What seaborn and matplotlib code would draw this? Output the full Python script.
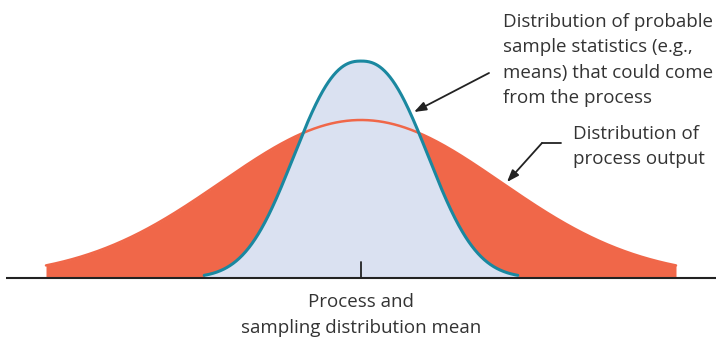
import numpy as np
import pandas as pd
import matplotlib
matplotlib.use("Agg")
import matplotlib.pyplot as plt
import seaborn as sns

# --- data (x in units of the process standard deviation) ---
process_mean = 0.0
process_sd = 1.0
process_peak = 1.0
process_range = [-2.25, 2.25]

# sampling distribution: narrower and taller, light tails
sample_scale = 0.604
sample_shape = 2.4
sample_peak = 1.373
sample_range = [-1.12, 1.12]

label_sampling = ["Distribution of probable", "sample statistics (e.g.,",
                  "means) that could come", "from the process"]
label_process = ["Distribution of", "process output"]
label_mean = ["Process and", "sampling distribution mean"]

# --- colours ---
ORANGE = "#F06749"
BLUE_FILL = "#DAE1F1"
TEAL = "#1A88A0"
TEXT = "#333333"

sns.set_theme(style="white")
plt.rcParams["font.family"] = ["Open Sans", "DejaVu Sans"]

x_proc = np.linspace(process_range[0], process_range[1], 600)
x_samp = np.linspace(sample_range[0], sample_range[1], 600)
proc = pd.DataFrame({
    "x": x_proc,
    "y": process_peak * np.exp(-0.5 * ((x_proc - process_mean) / process_sd) ** 2),
})
samp = pd.DataFrame({
    "x": x_samp,
    "y": sample_peak * np.exp(-np.abs((x_samp - process_mean) / sample_scale) ** sample_shape),
})

fig = plt.figure(figsize=(7.27, 3.4), dpi=100)
ax = fig.add_axes([0, 0, 1, 1])
ax.set_xlim(-361 / 140, 366 / 140)
ax.set_ylim(-62 / 158, 278 / 158)
ax.axis("off")

# fills, then curves
ax.fill_between(proc["x"], 0, proc["y"], color=ORANGE, lw=0, zorder=1)
ax.fill_between(samp["x"], 0, samp["y"], color=BLUE_FILL, lw=0, zorder=2)
sns.lineplot(data=proc, x="x", y="y", color=ORANGE, lw=1.8, ax=ax, zorder=3)
sns.lineplot(data=samp, x="x", y="y", color=TEAL, lw=2.2, ax=ax, zorder=4)

# baseline and mean tick
ax.plot([-355 / 140, 355 / 140], [0, 0], color="#222222", lw=1.5, zorder=5,
        solid_capstyle="butt")
ax.plot([process_mean, process_mean], [0, 16 / 158], color="#222222", lw=1.3,
        zorder=5)

# labels
fs = 13.5
for i, s in enumerate(label_sampling):
    ax.text(142 / 140, (278 - 27 - 25.4 * i) / 158, s, fontsize=fs, color=TEXT,
            ha="left", va="baseline")
for i, s in enumerate(label_process):
    ax.text(212 / 140, (278 - 139 - 25.4 * i) / 158, s, fontsize=fs, color=TEXT,
            ha="left", va="baseline")
for i, s in enumerate(label_mean):
    ax.text(process_mean, (278 - 307 - 26 * i) / 158, s, fontsize=fs, color=TEXT,
            ha="center", va="baseline")

# arrows
arrow = dict(arrowstyle="-|>,head_length=0.6,head_width=0.22", color="#222222",
             lw=1.3, shrinkA=0, shrinkB=0)
ax.annotate("", xy=(53 / 140, 166 / 158), xytext=(128 / 140, 205 / 158),
            arrowprops=arrow, zorder=6)
ax.plot([200 / 140, 181 / 140], [135 / 158, 135 / 158], color="#222222", lw=1.3,
        zorder=6)
ax.annotate("", xy=(146 / 140, 96 / 158), xytext=(181 / 140, 135 / 158),
            arrowprops=arrow, zorder=6)

fig.savefig("out.png", dpi=100)
